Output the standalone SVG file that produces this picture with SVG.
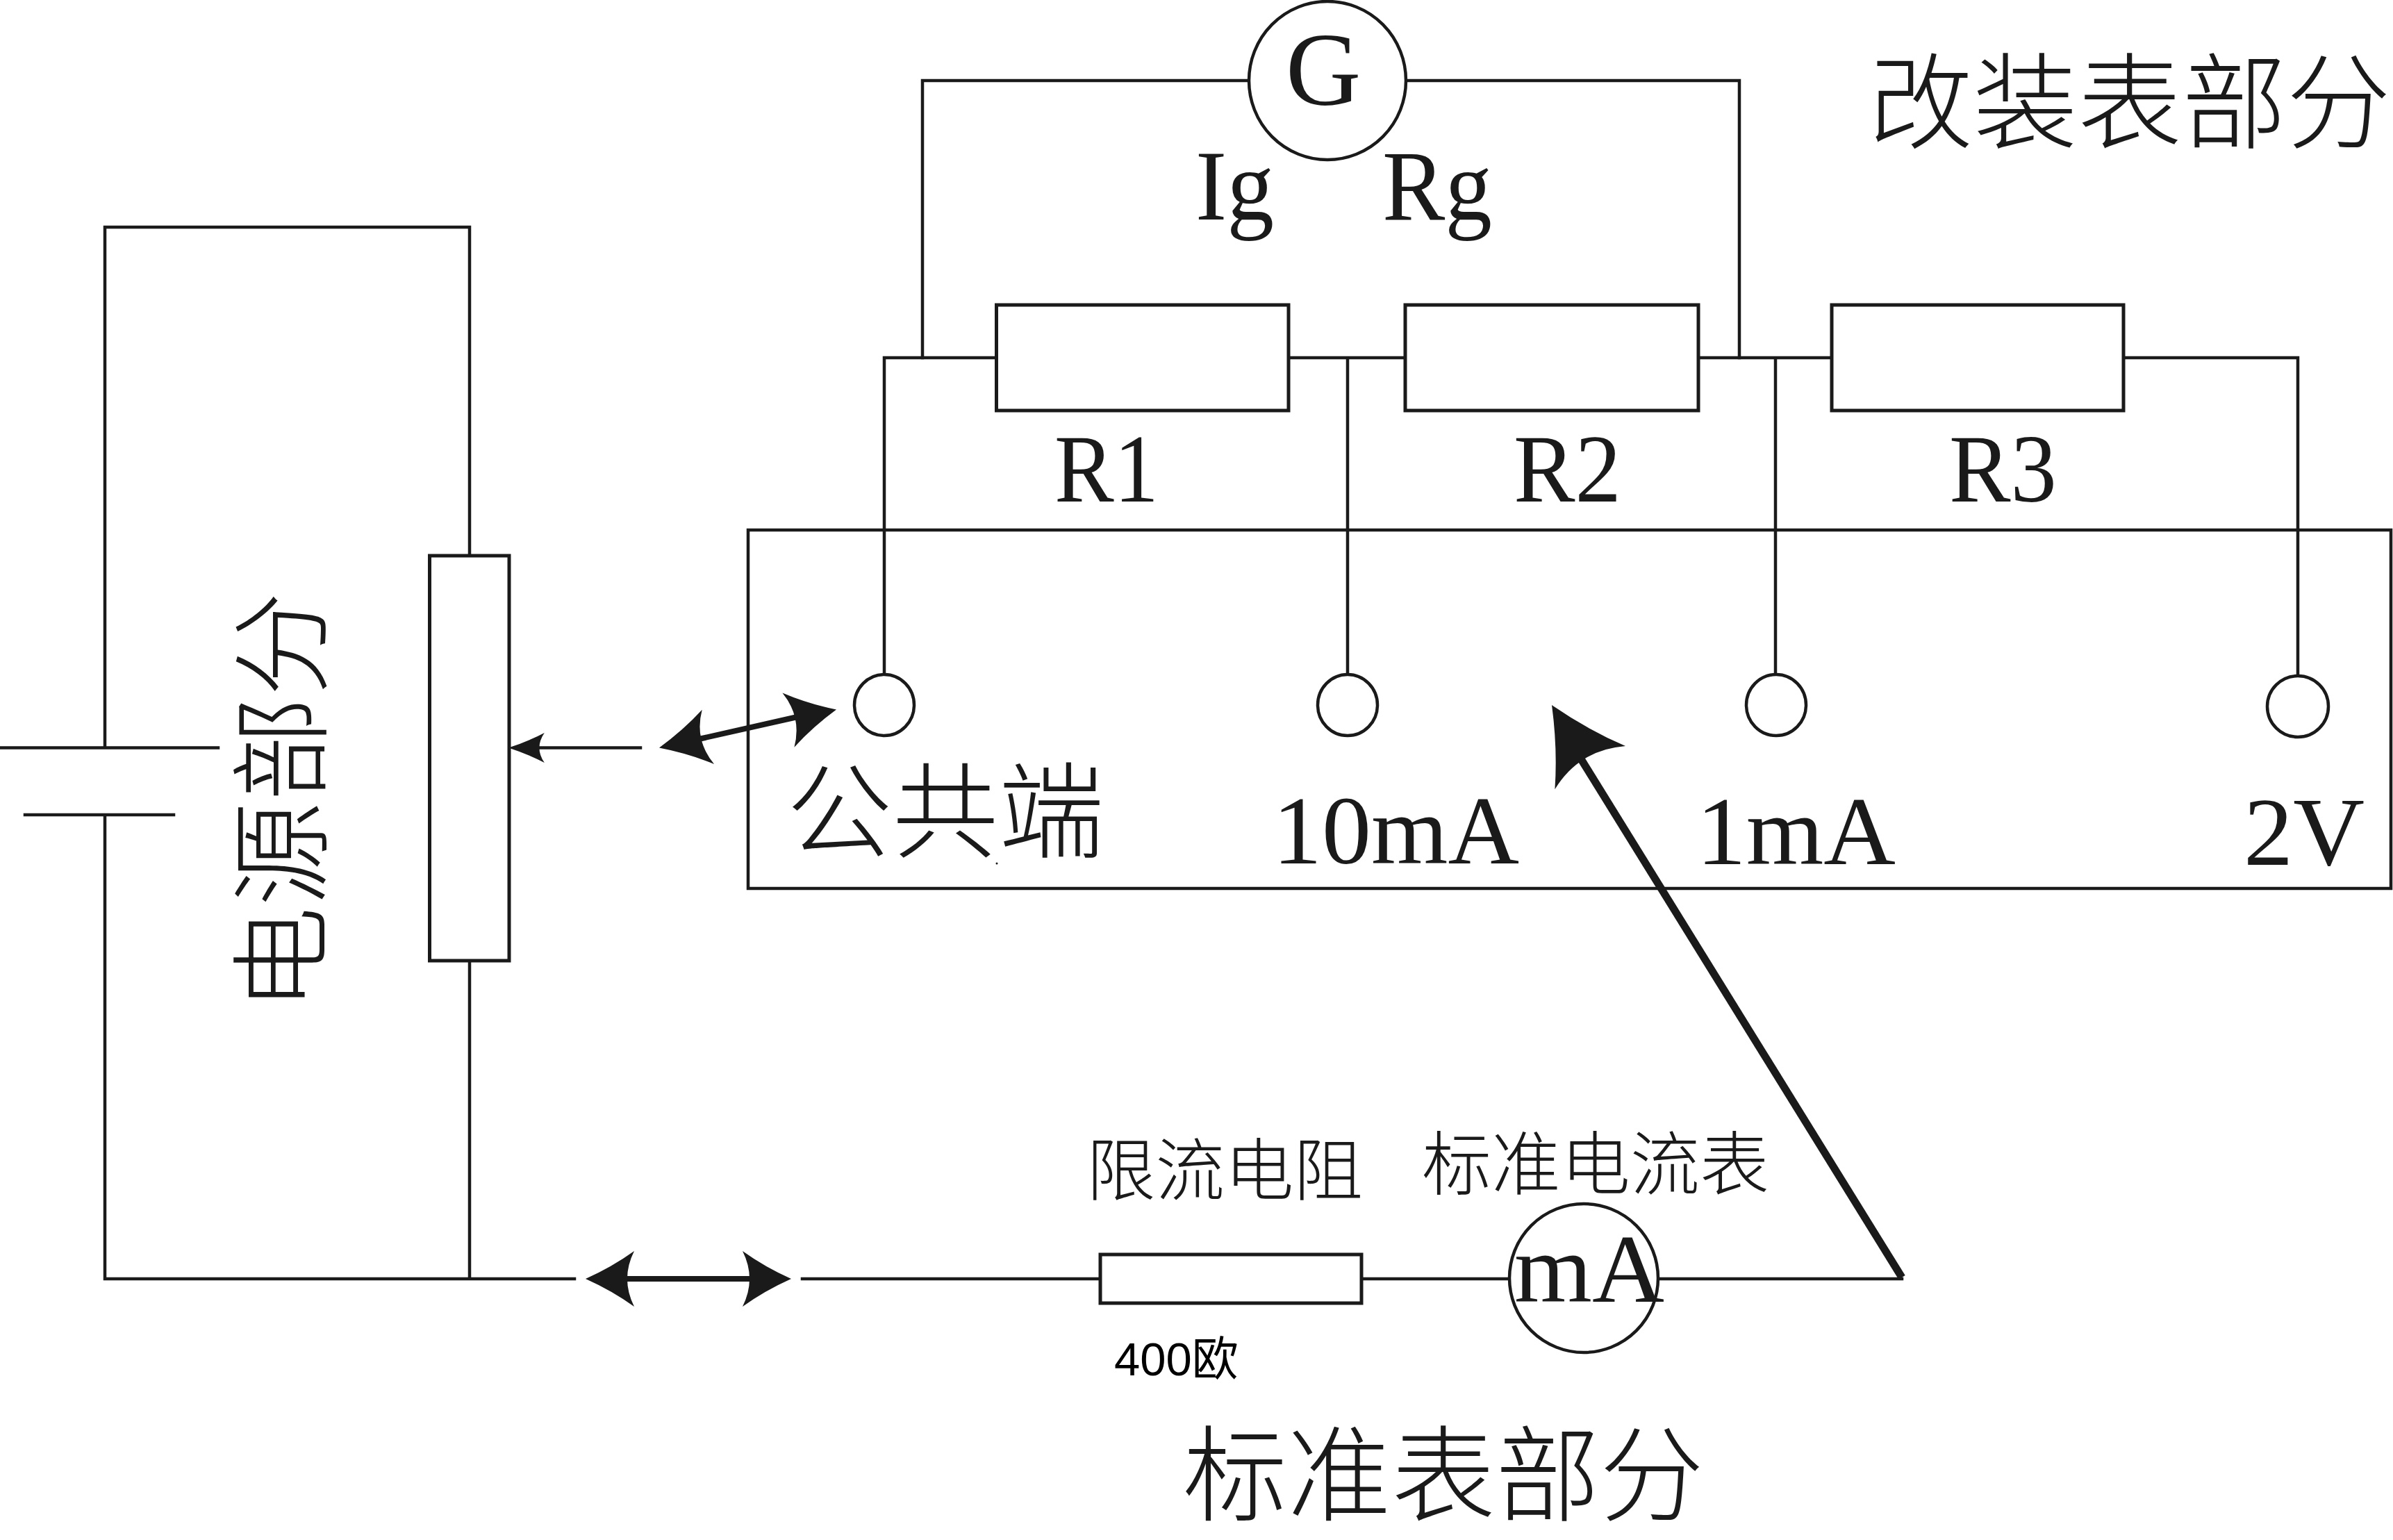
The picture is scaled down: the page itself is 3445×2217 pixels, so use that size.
<svg xmlns="http://www.w3.org/2000/svg" width="3445" height="2217" viewBox="0 0 3445 2217">
<style>
.w{fill:none;stroke:#1a1a1a;stroke-width:4.5;stroke-linecap:square;stroke-linejoin:miter}
.b{fill:#fff;stroke:#1a1a1a;stroke-width:5}
.c{fill:#fff;stroke:#1a1a1a;stroke-width:4.5}
.t{fill:#1a1a1a;font-family:"Liberation Serif","Noto Sans CJK SC",serif;font-weight:300}
.l{font-size:140px}
.z{font-size:150px}
.s{fill:#1a1a1a;stroke:none}
</style>
<defs>
<path id="head" class="s" d="M0,0 Q38,-17 70,-40 Q60,-20 60,0 Q60,20 70,40 Q38,17 0,0 Z"/>
</defs>
<rect width="3445" height="2217" fill="#fff"/>
<g id="panel"><rect class="w" x="1077" y="763" width="2365" height="516"/></g>
<g id="connectors">
<path class="w" d="M314,1076.5H2M151,1076.5V327H676V800M676,1383V1841H151V1173M36,1173H250M676,1841H827"/>
<path class="w" d="M1155,1841H1584M1960,1841H2169M2388,1841H2738"/>
<path class="w" d="M1797,116H1328V515M2024,116H2504V515"/>
<path class="w" d="M1273,971V515H1434M1855,515H2023M2439,515H2645M3057,515H3308V973M1940,515V971M2556,515V971"/>
<path class="w" d="M922,1076.5H760"/>
<use href="#head" transform="translate(732,1076.5) scale(.74,.54)"/>
<path d="M1006,1064L1148,1032" fill="none" stroke="#1a1a1a" stroke-width="8"/>
<use href="#head" transform="translate(949,1076.5) rotate(-12.5) scale(1.03,1)"/>
<use href="#head" transform="translate(1204,1021.5) rotate(167.7) scale(1.01,1)"/>
<path d="M900,1841H1082" fill="none" stroke="#1a1a1a" stroke-width="8"/>
<use href="#head" transform="translate(843,1841)"/>
<use href="#head" transform="translate(1139,1841) rotate(180)"/>
<path d="M2275,1091L2738,1839" fill="none" stroke="#1a1a1a" stroke-width="11"/>
<use href="#head" transform="translate(2234,1015) rotate(58.5) scale(1.51,1.49)"/>
</g>
<g id="galvanometer"><ellipse class="c" cx="1911" cy="116" rx="113" ry="114"/><text class="t" x="1851" y="151" font-size="150">G</text></g>
<g id="ig-label"><text class="t" font-size="145" x="1721" y="316" textLength="113" lengthAdjust="spacingAndGlyphs">Ig</text></g>
<g id="rg-label"><text class="t" font-size="145" x="1990" y="316" textLength="158" lengthAdjust="spacingAndGlyphs">Rg</text></g>
<g id="r1"><rect class="b" x="1434.5" y="439" width="420.5" height="152"/><text class="t l" x="1518" y="722" textLength="150" lengthAdjust="spacingAndGlyphs">R1</text></g>
<g id="r2"><rect class="b" x="2023" y="439" width="422" height="152"/><text class="t l" x="2179" y="722" textLength="155" lengthAdjust="spacingAndGlyphs">R2</text></g>
<g id="r3"><rect class="b" x="2637" y="439" width="420" height="152"/><text class="t l" x="2806" y="722" textLength="155" lengthAdjust="spacingAndGlyphs">R3</text></g>
<g id="modified-title"><text class="t z" x="2690" y="202" textLength="752" lengthAdjust="spacingAndGlyphs">改装表部分</text></g>
<g id="rheostat"><rect class="b" x="618.5" y="800" width="114.5" height="583"/></g>
<g id="power-label"><text class="t" font-size="146" transform="translate(458,1456) rotate(-90) scale(1.035,1)">电源部分</text></g>
<g id="terminal-common"><ellipse class="c" cx="1273" cy="1015" rx="43" ry="44"/><text class="t z" x="1132" y="1223" textLength="458" lengthAdjust="spacingAndGlyphs">公共端</text><circle cx="1435" cy="1243" r="1.5" fill="#1a1a1a"/></g>
<g id="terminal-10ma"><ellipse class="c" cx="1940" cy="1015" rx="43" ry="44"/><text class="t l" x="1832" y="1243" textLength="355" lengthAdjust="spacingAndGlyphs">10mA</text></g>
<g id="terminal-1ma"><ellipse class="c" cx="2557" cy="1015" rx="43" ry="44"/><text class="t l" x="2442" y="1244" textLength="287" lengthAdjust="spacingAndGlyphs">1mA</text></g>
<g id="terminal-2v"><ellipse class="c" cx="3308" cy="1017" rx="44" ry="44"/><text class="t l" x="3230" y="1245" textLength="174" lengthAdjust="spacingAndGlyphs">2V</text></g>
<g id="limit-resistor"><rect class="b" x="1584" y="1806" width="376" height="70"/><text class="t" font-size="98" x="1564" y="1720" textLength="398" lengthAdjust="spacingAndGlyphs">限流电阻</text><text x="1604" y="1980" font-size="67" font-family="'Liberation Sans','Noto Sans CJK SC',sans-serif" fill="#000">400欧</text></g>
<g id="standard-meter"><ellipse class="c" cx="2280" cy="1840" rx="107" ry="107"/><text class="t l" x="2180" y="1874" textLength="216" lengthAdjust="spacingAndGlyphs">mA</text><text class="t" font-size="100" x="2047" y="1712">标准电流表</text></g>
<g id="standard-title"><text class="t z" x="1703" y="2178">标准表部分</text></g>
</svg>
